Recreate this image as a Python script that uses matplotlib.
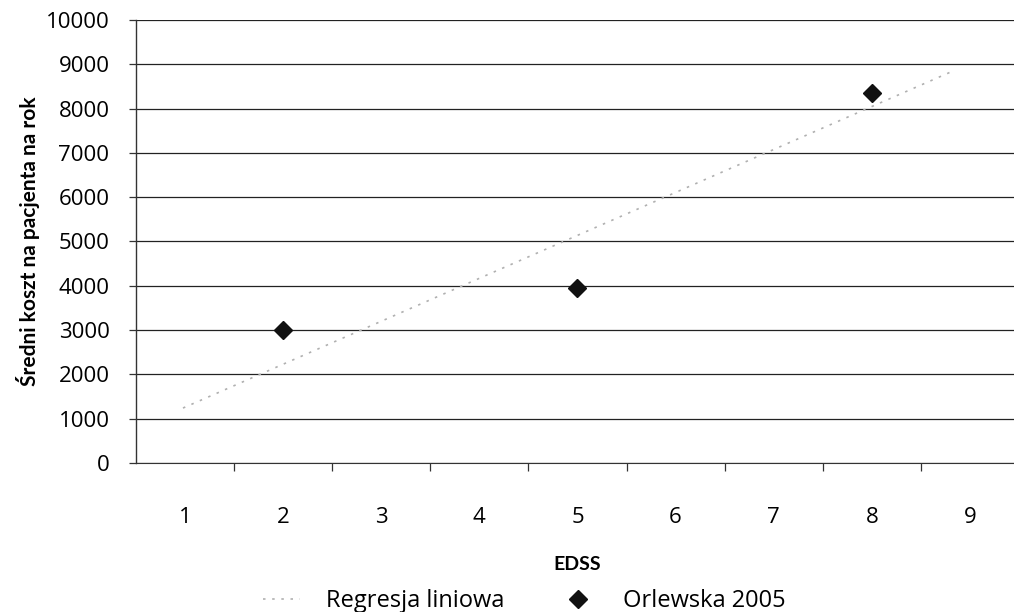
import matplotlib
matplotlib.use("Agg")
import matplotlib.pyplot as plt
from matplotlib.ticker import FixedLocator

plt.rcParams['font.family'] = ['Open Sans', 'DejaVu Sans']

# Data
categories = [1, 2, 3, 4, 5, 6, 7, 8, 9]
obs_x = [2, 5, 8]
obs_y = [3000, 3950, 8350]
reg_x = [0.98, 8.85]
reg_y = [1240, 8870]
y_ticks = [0, 1000, 2000, 3000, 4000, 5000, 6000, 7000, 8000, 9000, 10000]

fig = plt.figure(figsize=(10.14, 6.12), dpi=100)
ax = fig.add_axes([0.134, 0.2435, 0.871, 0.7239])

ax.set_xlim(0.5, 9.5)
ax.set_ylim(0, 10000)

for yv in y_ticks:
    ax.axhline(yv, color='#222222', lw=0.9, zorder=1)

reg_line, = ax.plot(reg_x, reg_y, color='#b0b0b0', lw=1.2,
                    linestyle=(0, (1.5, 4)), zorder=2, label='Regresja liniowa')
pts, = ax.plot(obs_x, obs_y, linestyle='none', marker='D', markersize=9.5,
               color='#111111', zorder=3, label='Orlewska 2005')

for s in ['top', 'right']:
    ax.spines[s].set_visible(False)
ax.spines['left'].set_color('#333333')
ax.spines['bottom'].set_color('#333333')
ax.spines['left'].set_linewidth(1.0)

ax.set_yticks(y_ticks)
ax.set_yticklabels([str(v) for v in y_ticks])
ax.tick_params(axis='y', length=5, width=0.9, pad=14, labelsize=16, color='#333333')

ax.set_xticks(categories)
ax.set_xticklabels([str(c) for c in categories])
ax.xaxis.set_minor_locator(FixedLocator([c + 0.5 for c in categories[:-1]]))
ax.tick_params(axis='x', which='major', length=0, pad=32, labelsize=16)
ax.tick_params(axis='x', which='minor', length=6, width=0.9, color='#333333')

ax.set_xlabel('EDSS', fontsize=14, fontweight='bold', labelpad=20,
              family=['Lato', 'DejaVu Sans'])
ax.set_ylabel('Średni koszt na pacjenta na rok', fontsize=15, fontweight='bold',
              labelpad=4, family=['Lato', 'DejaVu Sans'])

fig.legend(handles=[reg_line, pts], loc='lower left', ncol=2, frameon=False,
           bbox_to_anchor=(0.238, -0.037), fontsize=17, columnspacing=2.3,
           handlelength=1.6, handletextpad=1.1)

fig.savefig('out.png', dpi=100)
